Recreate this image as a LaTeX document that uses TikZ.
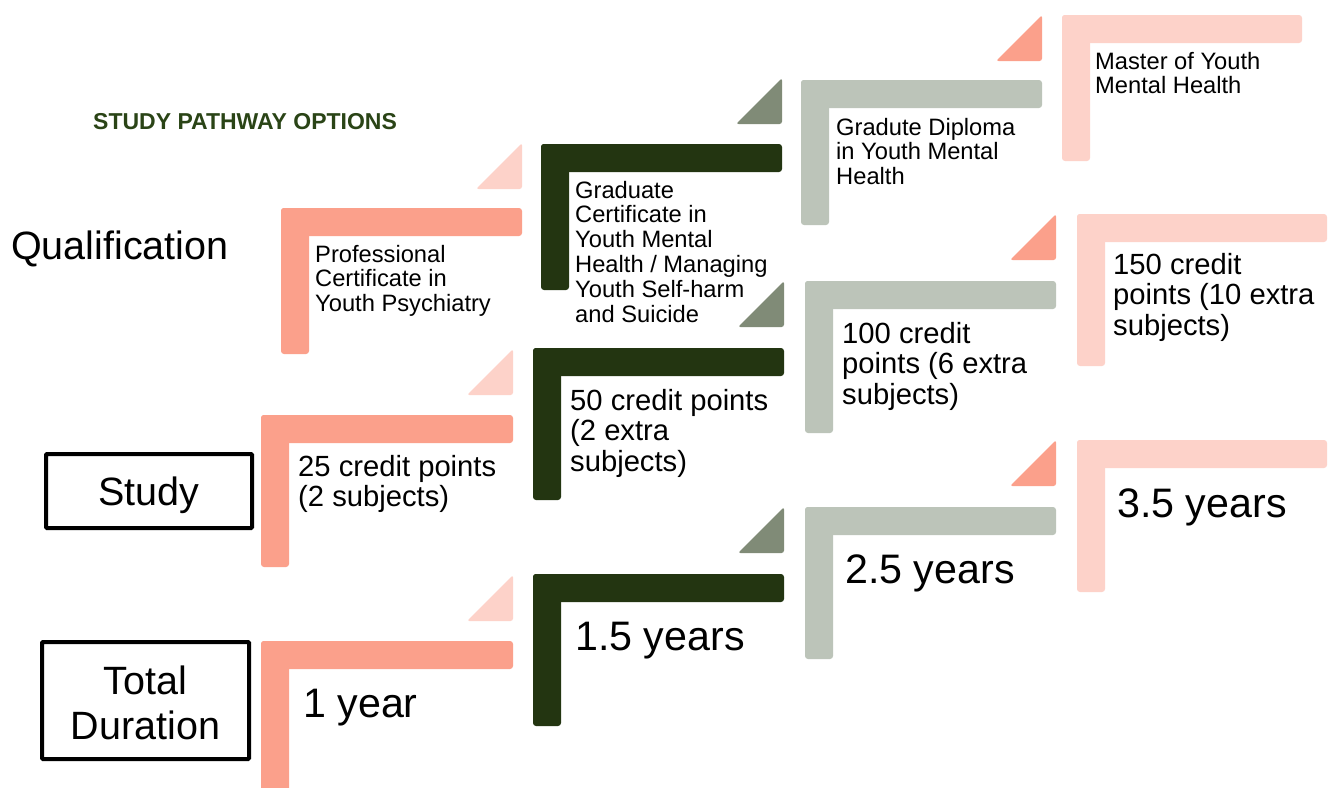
\documentclass[tikz,border=0pt]{standalone}
\usepackage{fontspec}
\setmainfont{Liberation Sans}
\definecolor{salmon}{HTML}{FBA08B}
\definecolor{lightpink}{HTML}{FDD2C9}
\definecolor{darkgreen}{HTML}{233511}
\definecolor{greygreen}{HTML}{808B77}
\definecolor{palegreen}{HTML}{BCC4B9}
\definecolor{titlegreen}{HTML}{2A4416}
\newcommand\lbar[6]{% colour, x0, y0, x1, y1, thickness
  \fill[#1,rounded corners=3pt] (#2,#3) rectangle (#4,#3+#6);
  \fill[#1,rounded corners=3pt] (#2,#3) rectangle (#2+#6,#5);
}
\newcommand\ltri[4]{% colour, right x, top y, bottom y
  \fill[#1,rounded corners=2.5pt] (#2,#3) -- (#2,#4) -- (#2-#4+#3,#4) -- cycle;
}
\newcommand\lns[1]{\begin{tabular}[t]{@{}l@{}}#1\end{tabular}}
\newcommand\clns[1]{\begin{tabular}[t]{@{}c@{}}#1\end{tabular}}
\begin{document}
\begin{tikzpicture}[x=1pt,y=-1pt,
  txt/.style={anchor=base west,inner sep=0pt,text=black},
  small/.style={txt,font=\fontsize{23.7}{24.8}\selectfont},
  mid/.style={txt,font=\fontsize{29.2}{30.7}\selectfont},
  big/.style={txt,font=\fontsize{41.2}{44}\selectfont},
  label/.style={inner sep=0pt,font=\fontsize{39.5}{45}\selectfont},
  box/.style={draw=black,line width=4pt,rounded corners=1pt,inner sep=0pt}]
\useasboundingbox (0,0) rectangle (1329,787);
\fill[white] (0,0) rectangle (1329,787);

% column 1
\lbar{salmon}{281}{208}{522}{354}{28}
\ltri{lightpink}{522}{143}{189}
\lbar{salmon}{261}{415}{513}{567}{28}
\ltri{lightpink}{513}{349}{395}
\lbar{salmon}{261}{641}{513}{800}{28}
\ltri{lightpink}{513}{575}{621}
% column 2
\lbar{darkgreen}{541}{144}{782}{290}{28}
\ltri{greygreen}{782}{78}{124}
\lbar{darkgreen}{533}{348}{784}{500}{28}
\ltri{greygreen}{784}{281}{327}
\lbar{darkgreen}{533}{574}{784}{726}{28}
\ltri{greygreen}{784}{507}{553}
% column 3
\lbar{palegreen}{801}{80}{1042}{225}{28}
\ltri{salmon}{1042}{15}{61}
\lbar{palegreen}{805}{281}{1056}{433}{28}
\ltri{salmon}{1056}{214}{260}
\lbar{palegreen}{805}{507}{1056}{659}{28}
\ltri{salmon}{1056}{440}{486}
% column 4
\lbar{lightpink}{1062}{15}{1302}{161}{28}
\lbar{lightpink}{1077}{214}{1327}{366}{28}
\lbar{lightpink}{1077}{440}{1327}{592}{28}

% title and row labels
\node[txt,font=\fontsize{23}{26}\selectfont\bfseries,text=titlegreen] (title) at (93,129) {STUDY PATHWAY OPTIONS};
\node[label,anchor=base west] (qual) at (11,259) {Qualification};
\node[box,minimum width=206pt,minimum height=74pt] (studybox) at (149,491) {};
\node[label,anchor=base] (study) at (149,505) {Study};
\node[box,minimum width=207pt,minimum height=117pt] (durbox) at (145.5,700.5) {};
\node[label,anchor=base] (dur) at (145.5,694) {\clns{Total\\Duration}};

% qualification texts
\node[small] (q1) at (315,262) {\lns{Professional\\Certificate in\\Youth Psychiatry}};
\node[small] (q2) at (575,198) {\lns{Graduate\\Certificate in\\Youth Mental\\Health / Managing\\Youth Self-harm\\and Suicide}};
\node[small] (q3) at (836,135) {\lns{Gradute Diploma\\in Youth Mental\\Health}};
\node[small] (q4) at (1095,69) {\lns{Master of Youth\\Mental Health}};

% study texts
\node[mid] (s1) at (298,476) {\lns{25 credit points\\(2 subjects)}};
\node[mid] (s2) at (570,410) {\lns{50 credit points\\(2 extra\\subjects)}};
\node[mid] (s3) at (842,343) {\lns{100 credit\\points (6 extra\\subjects)}};
\node[mid] (s4) at (1113,274) {\lns{150 credit\\points (10 extra\\subjects)}};

% duration texts
\node[big] (d1) at (303,717) {1 year};
\node[big] (d2) at (575,650) {1.5 years};
\node[big] (d3) at (845,583) {2.5 years};
\node[big] (d4) at (1117,517) {3.5 years};
\end{tikzpicture}
\end{document}
